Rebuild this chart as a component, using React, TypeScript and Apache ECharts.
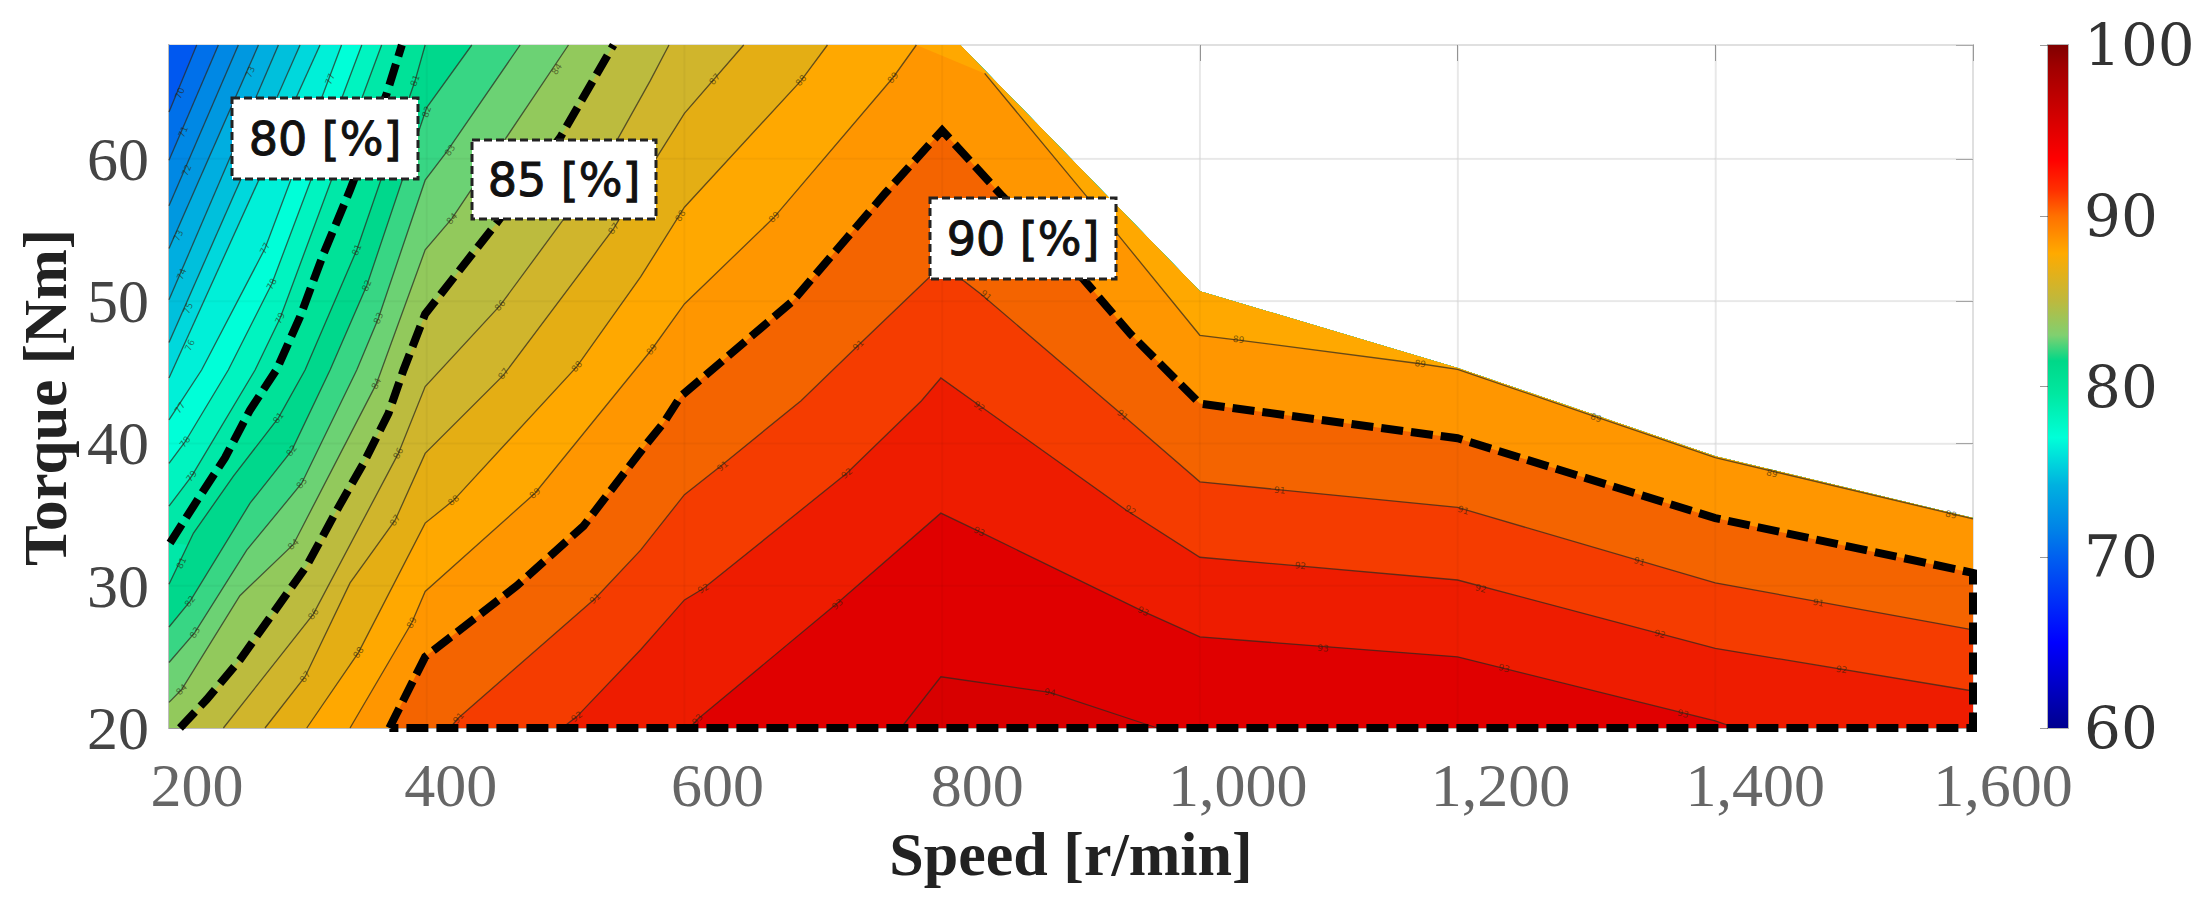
import React, { useEffect, useRef } from "react";
import * as echarts from "echarts";

// tick labels
const speedTicks = [200, 400, 600, 800, 1000, 1200, 1400, 1600];
const speedTickLabels = ["200", "400", "600", "800", "1,000", "1,200", "1,400", "1,600"];
const torqueTicks = [20, 30, 40, 50, 60];
const colorbarTicks = [60, 70, 80, 90, 100];

// upper limit of the measured region [speed, torque]
const envelope = [[814, 68], [1000, 50.7], [1200, 45.3], [1400, 39.1], [1600, 34.75]];

// iso-efficiency contours, [speed r/min, torque Nm]
const c70 = [[200, 63.3], [221.5, 68]];
const c71 = [[200, 59.9], [238.3, 68]];
const c72 = [[200, 56.7], [253.8, 68]];
const c73 = [[200, 53.7], [269.4, 68]];
const c74 = [[200, 50.1], [284.9, 68]];
const c75 = [[200, 47.1], [301.7, 68]];
const c76 = [[200, 44.6], [317.2, 68]];
const c77 = [[200, 41.65], [225.3, 45.16], [274.5, 53.7], [333.9, 68]];
const c78 = [[200, 38.6], [212.4, 40.1], [246, 45.16], [279.7, 51.2], [349.6, 68]];
const c79 = [[200, 35.6], [217.6, 37.7], [266.8, 45.16], [286.2, 48.8], [365, 68]];
const c80 = [[200.8, 33], [224, 36.3], [243.5, 39], [262.9, 42.35], [283.6, 45.2], [301.7, 48.9], [319.8, 53.3], [340.5, 57.8], [369, 64.6], [380.7, 68]];
const c81 = [[200, 30.1], [219, 33.7], [250, 37.7], [284.9, 41.8], [305.6, 45.16], [345.7, 53.6], [391, 65.5], [398.8, 68]];
const c82 = [[200, 27.1], [216.3, 28.9], [262.9, 35.8], [295.2, 39.5], [325, 45.16], [353.5, 51.1], [400, 63.6], [435, 68]];
const c83 = [[200, 24.6], [220, 26.7], [260.3, 32.5], [303, 37.2], [345.7, 45.16], [362.5, 48.8], [398.8, 58.5], [415.6, 60.5], [472.5, 68]];
const c84 = [[200, 21.8], [209.8, 22.7], [255, 29.3], [296.5, 32.9], [361, 44.2], [398.8, 53.6], [419.5, 55.8], [510, 68]];
const c85 = [[208.5, 20], [229.2, 22], [255.1, 24.8], [281, 28.1], [306.9, 31.4], [330.2, 35.3], [350.9, 38.6], [370.3, 42.1], [382, 45.16], [398.8, 49.1], [454.4, 55.5], [503.6, 61.5], [545, 68]];
const c86 = [[242.2, 20], [312, 28], [378, 39.3], [398.8, 44], [457, 49.7], [505, 55.6], [547.6, 61.3], [573.5, 65.5], [588, 68]];
const c87 = [[274.5, 20], [305.6, 23.6], [340.5, 30.2], [375.5, 34.6], [398.8, 39.3], [459.6, 44.8], [545, 55.1], [580.6, 60.4], [600, 63.2], [646, 68]];
const c88 = [[306.9, 20], [347, 25.3], [398.8, 34.4], [420.8, 36], [516.5, 45.4], [566, 51.7], [600, 56.6], [690.5, 65.5], [711, 68]];
const c89Left = [[340.5, 20], [388.4, 27.4], [398.8, 29.6], [484, 36.5], [574.6, 46.6], [600, 49.8], [669.7, 55.9], [761.8, 65.7], [780, 68]];
const c89Right = [[833, 66], [911.8, 57.4], [937, 54.6], [1000, 47.6], [1030, 47.26], [1171, 45.6], [1200, 45.2], [1300, 42.1], [1400, 39], [1600, 34.7]];
const c90 = [[371, 20], [398.8, 25], [470, 30], [521.7, 34.2], [570.9, 40], [583.5, 41.4], [597, 43.3], [684, 50], [756, 57.6], [800, 62], [846.5, 57.4], [910, 51.5], [946, 47.7], [1000, 42.8], [1200, 40.36], [1400, 34.75], [1600, 30.9]];
const c91 = [[418, 20], [424.6, 20.7], [530.7, 29.1], [566, 32.5], [600, 36.4], [628, 38.4], [690.5, 43], [735, 46.9], [791.5, 51.8], [800, 52.6], [830, 50.5], [940, 42], [1000, 37.3], [1200, 35.5], [1400, 30.2], [1600, 26.9]];
const c92 = [[505, 20], [516.5, 20.8], [566, 25.5], [600, 29], [614.7, 29.8], [726, 37.9], [784, 43], [799, 44.6], [830, 42.6], [943, 35.3], [1000, 32], [1200, 30.4], [1400, 25.6], [1600, 22.6]];
const c93 = [[604, 20], [610, 20.6], [719, 28.8], [799, 35.1], [829, 33.8], [956, 28.2], [1000, 26.4], [1200, 25], [1400, 20.5], [1416, 20]];
const c94 = [[768, 20], [799, 23.6], [883.6, 22.5], [967, 20]];

const contourLevels = [70, 71, 72, 73, 74, 75, 76, 77, 78, 79, 80, 81, 82, 83, 84, 85, 86, 87, 88, 89, 90, 91, 92, 93, 94];
const contourLines = [[c70], [c71], [c72], [c73], [c74], [c75], [c76], [c77], [c78], [c79], [c80], [c81], [c82], [c83], [c84], [c85], [c86], [c87], [c88], [c89Left, c89Right], [c90], [c91], [c92], [c93], [c94]];

// colour of the band that lies at or above each level; the first is the band below 70
const baseBandColor = "#0058f0";
const bandColors = ["#0070ea", "#0088e4", "#0098e0", "#00aee0", "#00c0dc", "#00d8dc", "#00f0d8", "#00ffd8", "#00f4c0", "#00e8a8", "#00e298", "#00d88c", "#38d684", "#6cd274", "#92c95c", "#bcbb3e", "#d0b52c", "#e4ae14", "#ffa800", "#ff9600", "#f46400", "#f53c00", "#ee1c00", "#e00000", "#d80000"];

// colour bar: value and colour
const colorbarValues = [60, 65, 70, 71.5, 74.2, 77, 79.6, 81.5, 83, 85, 87.8, 90, 91.5, 93.3, 98.7, 100];
const colorbarColors = ["#00008f", "#0000ff", "#0060f0", "#0080e8", "#00b0e0", "#00ffd8", "#00e8a0", "#00d888", "#80d070", "#bdb93e", "#ffaa00", "#ff7000", "#ff3000", "#ff0000", "#a00000", "#800000"];

const dashedLevels = [80, 85, 90];

// inline contour labels: level, speed, torque
const contourLabels = [
  [70, 208.5, 64.6], [71, 211, 61.9], [72, 213.7, 59.2], [73, 263, 66.1], [73, 207.3, 54.6], [74, 209.8, 51.9], [75, 215, 49.5], [76, 216.3, 46.9],
  [77, 325, 65.6], [77, 274.5, 53.7], [77, 208.5, 42.5], [78, 279.7, 51.2], [78, 212.4, 40.1], [79, 286.2, 48.8], [79, 217.6, 37.7],
  [81, 391, 65.5], [81, 345.7, 53.6], [81, 284.9, 41.8], [81, 209.8, 31.6], [82, 400, 63.3], [82, 353.5, 51.1], [82, 295.2, 39.5], [82, 216.3, 28.9],
  [83, 418, 60.6], [83, 362.5, 48.8], [83, 303, 37.2], [83, 220.2, 26.7], [84, 501, 66.3], [84, 419.5, 55.8], [84, 361, 44.2], [84, 296.5, 32.9], [84, 209.8, 22.7],
  [86, 457, 49.7], [86, 378, 39.3], [86, 312, 28], [87, 623.6, 65.6], [87, 545, 55.1], [87, 459.6, 44.9], [87, 375.5, 34.6], [87, 305.6, 23.6],
  [88, 690.5, 65.5], [88, 597, 56], [88, 516.5, 45.4], [88, 420.8, 36], [88, 347, 25.3],
  [89, 761.8, 65.7], [89, 669.7, 55.9], [89, 574.6, 46.6], [89, 484, 36.5], [89, 388.4, 27.4], [89, 1030, 47.3], [89, 1171, 45.6], [89, 1307.5, 41.8], [89, 1444, 37.9], [89, 1583, 35],
  [91, 735, 46.9], [91, 834, 50.4], [91, 940, 42], [91, 629.6, 38.4], [91, 530.7, 29.1], [91, 424.6, 20.7], [91, 1062, 36.7], [91, 1204.5, 35.3], [91, 1341, 31.7], [91, 1480, 28.8],
  [92, 726, 37.9], [92, 614.7, 29.8], [92, 828.7, 42.6], [92, 946, 35.3], [92, 1078, 31.4], [92, 1218, 29.8], [92, 1357, 26.6], [92, 1498, 24.1], [92, 516.5, 20.8],
  [93, 718.7, 28.7], [93, 828.7, 33.8], [93, 956, 28.2], [93, 610, 20.6], [93, 1095.6, 25.6], [93, 1236, 24.2], [93, 1375, 21], [94, 883.6, 22.5],
];

// callouts
const callouts = [
  { text: "80 [%]", x: 232, y: 98, w: 186, h: 81 },
  { text: "85 [%]", x: 472, y: 140, w: 184, h: 79 },
  { text: "90 [%]", x: 930, y: 198, w: 186, h: 81 },
];

// how far each x label sits to the right of its tick, in the reference
const speedLabelShift = [28, 24, 33, 35, 38, 43, 40, 30];

const SERIF = '"Liberation Serif", serif';
const XMIN = 200, XMAX = 1600, YMIN = 20, YMAX = 68;

function regionPolygon(index: number) {
  const pts: number[][] = [];
  contourLines[index].forEach((p) => pts.push(...p));
  const last = pts[pts.length - 1];
  if (last[1] >= YMAX) pts.push(...envelope);
  pts.push([XMAX, YMIN]);
  if (pts[0][0] <= XMIN) pts.push([XMIN, YMIN]);
  return pts;
}

function labelAngle(lines: number[][][], s: number, t: number, api: any) {
  const p = api.coord([s, t]);
  let best = 0, dist = Infinity;
  lines.forEach((line) => {
    for (let i = 0; i + 1 < line.length; i++) {
      const a = api.coord(line[i]), b = api.coord(line[i + 1]);
      const dx = b[0] - a[0], dy = b[1] - a[1];
      const k = Math.max(0, Math.min(1, ((p[0] - a[0]) * dx + (p[1] - a[1]) * dy) / (dx * dx + dy * dy || 1)));
      const d = Math.hypot(a[0] + k * dx - p[0], a[1] + k * dy - p[1]);
      if (d < dist) { dist = d; best = Math.atan2(dy, dx); }
    }
  });
  if (best > Math.PI / 2) best -= Math.PI;
  if (best < -Math.PI / 2) best += Math.PI;
  return -best;
}

function buildOption(): any {
  const rich: any = {};
  speedTicks.forEach((v, i) => {
    rich["s" + v] = { fontFamily: SERIF, fontSize: 62, color: "#666", padding: [0, 0, 0, speedLabelShift[i] * 2] };
  });
  const custom = (renderItem: any, data: any[], z: number) => ({
    type: "custom", coordinateSystem: "cartesian2d", xAxisIndex: 0, yAxisIndex: 0, silent: true, clip: false, z, data, renderItem,
  });
  return {
    animation: false,
    backgroundColor: "#fff",
    grid: [
      { left: 169, top: 45, width: 1804, height: 683, show: true, borderColor: "#bdbdbd", borderWidth: 2, containLabel: false, outerBoundsMode: "none" },
      { left: 2048, top: 45, width: 20, height: 683, show: true, borderColor: "#b5b5b5", borderWidth: 2, containLabel: false, outerBoundsMode: "none" },
    ],
    xAxis: [
      {
        type: "value", gridIndex: 0, min: XMIN, max: XMAX, interval: 200, position: "bottom",
        name: "Speed [r/min]", nameLocation: "middle", nameGap: 95,
        nameTextStyle: { fontFamily: SERIF, fontSize: 62, fontWeight: "bold", color: "#222" },
        axisLine: { show: true, lineStyle: { color: "#bdbdbd", width: 2 } },
        axisTick: { show: true, inside: true, length: 16, lineStyle: { color: "#999" } },
        splitLine: { show: true, lineStyle: { color: "#ececec", width: 1.5 } },
        axisLabel: {
          margin: 26, rich,
          formatter: (v: number) => `{s${v}|${speedTickLabels[speedTicks.indexOf(v)]}}`,
        },
      },
      {
        type: "value", gridIndex: 0, min: XMIN, max: XMAX, interval: 200, position: "top",
        axisLine: { show: false }, axisTick: { show: true, inside: true, length: 16, lineStyle: { color: "#999" } },
        axisLabel: { show: false }, splitLine: { show: false },
      },
      { type: "value", gridIndex: 1, min: 0, max: 1, show: false },
    ],
    yAxis: [
      {
        type: "value", gridIndex: 0, min: YMIN, max: YMAX, interval: 10,
        name: "Torque [Nm]", nameLocation: "middle", nameGap: 90, nameRotate: 90,
        nameTextStyle: { fontFamily: SERIF, fontSize: 61, fontWeight: "bold", color: "#222", padding: [0, 22, 0, 0] },
        axisLine: { show: true, lineStyle: { color: "#bdbdbd", width: 2 } },
        axisTick: { show: true, inside: true, length: 17, lineStyle: { color: "#999" } },
        splitLine: { show: true, lineStyle: { color: "#ececec", width: 1.5 } },
        axisLabel: { margin: 20, fontFamily: SERIF, fontSize: 62, color: "#444", showMaxLabel: false },
      },
      {
        type: "value", gridIndex: 0, min: YMIN, max: YMAX, interval: 10, position: "right",
        axisLine: { show: false }, axisTick: { show: true, inside: true, length: 17, lineStyle: { color: "#aaa" } },
        axisLabel: { show: false }, splitLine: { show: false },
      },
      {
        type: "value", gridIndex: 1, min: colorbarTicks[0], max: colorbarTicks[colorbarTicks.length - 1], interval: 10, position: "right",
        axisLine: { show: false },
        axisTick: { show: true, inside: true, length: 8, lineStyle: { color: "rgba(0,0,0,0.4)" } },
        splitLine: { show: false },
        axisLabel: { margin: 16, fontFamily: '"DejaVu Serif", serif', fontSize: 58, color: "#333" },
      },
    ],
    series: [
      // filled bands, lowest first
      custom((_: any, api: any) => ({
        type: "polygon",
        shape: {
          points: [[XMIN, YMAX], ...envelope, [XMAX, YMIN], [XMIN, YMIN]].map((p) => api.coord(p)),
        },
        style: { fill: baseBandColor },
      }), [[0]], 2),
      custom((params: any, api: any) => ({
        type: "polygon",
        shape: { points: regionPolygon(params.dataIndex).map((p) => api.coord(p)) },
        style: { fill: bandColors[params.dataIndex] },
      }), contourLevels.map((l) => [l]), 3),
      // grid shows faintly through the fill
      custom((params: any, api: any) => {
        const v = api.value(0), horizontal = api.value(1) === 1;
        const a = api.coord(horizontal ? [XMIN, v] : [v, YMIN]);
        const b = api.coord(horizontal ? [XMAX, v] : [v, YMAX]);
        return {
          type: "line",
          shape: { x1: a[0], y1: a[1], x2: b[0], y2: b[1] },
          style: { stroke: "rgba(0,0,0,0.035)", lineWidth: 2 },
        };
      }, [...speedTicks.slice(1, -1).map((v) => [v, 0]), ...torqueTicks.slice(1).map((v) => [v, 1])], 4),
      // contour lines
      custom((params: any, api: any) => ({
        type: "group",
        children: contourLines[params.dataIndex]
          .filter(() => !dashedLevels.includes(contourLevels[params.dataIndex]))
          .map((line) => ({
            type: "polyline",
            shape: { points: line.map((p) => api.coord(p)) },
            style: { fill: "none", stroke: "rgba(45,40,30,0.72)", lineWidth: 1.3 },
          })),
      }), contourLevels.map((l) => [l]), 5),
      // contour labels
      custom((params: any, api: any) => {
        const [level, s, t] = contourLabels[params.dataIndex];
        const i = contourLevels.indexOf(level);
        const c = api.coord([s, t]);
        return {
          type: "text",
          x: c[0], y: c[1],
          rotation: labelAngle(contourLines[i], s, t, api),
          style: {
            text: String(level), align: "center", verticalAlign: "middle",
            font: '9px "DejaVu Sans", sans-serif', fill: "rgba(40,30,10,0.6)",
          },
        };
      }, contourLabels.map((l) => [l[0]]), 6),
      // 80, 85 and 90 % lines
      custom((params: any, api: any) => {
        const level = dashedLevels[params.dataIndex];
        let line = contourLines[contourLevels.indexOf(level)][0];
        if (level === 90) line = [...line, [XMAX, YMIN], line[0]];
        return {
          type: "polyline",
          shape: { points: line.map((p) => api.coord(p)) },
          style: { fill: "none", stroke: "#000", lineWidth: 8, lineDash: [22, 8], lineJoin: "miter" },
        };
      }, dashedLevels.map((l) => [l]), 7),
      // colour bar
      {
        type: "custom", coordinateSystem: "cartesian2d", xAxisIndex: 2, yAxisIndex: 2, silent: true, clip: false, z: 2,
        data: [[0]],
        renderItem: (_: any, api: any) => {
          const a = api.coord([0, colorbarTicks[colorbarTicks.length - 1]]);
          const b = api.coord([1, colorbarTicks[0]]);
          return {
            type: "rect",
            shape: { x: a[0], y: a[1], width: b[0] - a[0], height: b[1] - a[1] },
            style: {
              fill: new echarts.graphic.LinearGradient(0, 1, 0, 0,
                colorbarValues.map((v, i) => ({ offset: (v - 60) / 40, color: colorbarColors[i] }))),
            },
          };
        },
      },
    ],
    graphic: callouts.map((b) => ({
      type: "group", z: 100, x: b.x, y: b.y,
      children: [
        {
          type: "rect", z: 100,
          shape: { x: 0, y: 0, width: b.w, height: b.h },
          style: { fill: "#fff", stroke: "#222", lineWidth: 3, lineDash: [8, 4] },
        },
        {
          type: "text", z: 101, x: b.w / 2, y: b.h / 2,
          style: {
            text: b.text, align: "center", verticalAlign: "middle",
            font: '46px "DejaVu Sans", sans-serif', fill: "#111", stroke: "#111", lineWidth: 1,
          },
        },
      ],
    })),
  };
}

export default function App() {
  const ref = useRef<HTMLDivElement>(null);
  useEffect(() => {
    document.body.style.margin = "0";
    const chart = echarts.init(ref.current!, undefined, { renderer: "svg" });
    chart.setOption(buildOption());
    return () => chart.dispose();
  }, []);
  return <div ref={ref} style={{ width: 2194, height: 906 }} />;
}
